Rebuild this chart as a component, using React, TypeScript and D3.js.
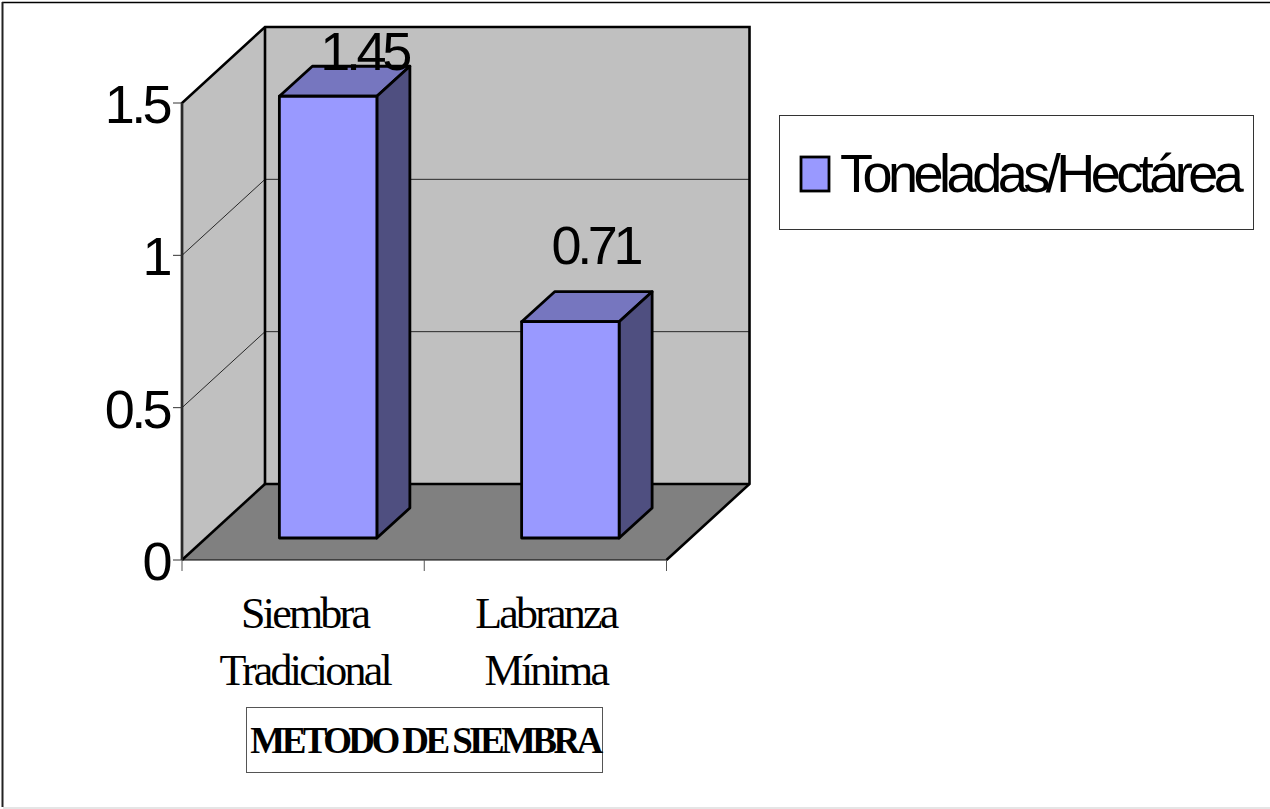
import React from "react";
import * as d3 from "d3";

const categories = [["Siembra", "Tradicional"], ["Labranza", "Mínima"]];
const categoryKeys = ["Siembra Tradicional", "Labranza Mínima"];
const values = [1.45, 0.71];
const valueLabels = ["1.45", "0.71"];
const yTicks = [0, 0.5, 1, 1.5];
const yTickLabels = ["0", "0.5", "1", "1.5"];
const seriesName = "Toneladas/Hectárea";
const axisTitle = "METODO DE SIEMBRA";

const W = 1270, H = 809;
const y = d3.scaleLinear().domain([0, 1.5]).range([560, 103]);
const x = d3.scaleBand<string>().domain(categoryKeys).range([182, 666.5]);
const DX = 83, DY = 76;
const BAR_W = 97.5, BAR_DX = 33, BAR_DY = 30, BAR_OX = 22, BAR_OY = -22;
const SANS = "'Liberation Sans', Arial, sans-serif";
const SERIF = "'Liberation Serif', 'Times New Roman', serif";
const line = d3.line();
const poly = (pts: [number, number][]) => line(pts)! + "Z";

export default function App() {
  const x0 = x.range()[0], x1 = x.range()[1];
  const y0 = y(0), yt = y(1.5);
  return (
    <svg width={W} height={H} viewBox={`0 0 ${W} ${H}`} style={{ position: "absolute", left: 0, top: 0, display: "block", background: "#fff" }}>
      {/* image frame */}
      <line x1={2} y1={2.5} x2={W} y2={2.5} stroke="#000" strokeWidth={1.5} />
      <line x1={2.5} y1={2} x2={2.5} y2={H - 2} stroke="#222" strokeWidth={2} />
      <line x1={3} y1={808} x2={W} y2={808} stroke="#ddd" strokeWidth={1.5} />

      {/* walls and floor */}
      <path d={poly([[x0, y0], [x0, yt], [x0 + DX, yt - DY], [x0 + DX, y0 - DY]])} fill="#c0c0c0" />
      <path d={poly([[x0 + DX, yt - DY], [x1 + DX, yt - DY], [x1 + DX, y0 - DY], [x0 + DX, y0 - DY]])} fill="#c0c0c0" />
      <path d={poly([[x0, y0], [x0 + DX, y0 - DY], [x1 + DX, y0 - DY], [x1, y0]])} fill="#808080" />

      {/* gridlines */}
      {yTicks.filter(t => t > 0 && t < 1.5).map(t => (
        <path key={t} d={line([[x0, y(t)], [x0 + DX, y(t) - DY], [x1 + DX, y(t) - DY]])!} fill="none" stroke="#000" strokeWidth={0.8} />
      ))}

      {/* wall outlines */}
      <path d={line([[x0, y0], [x0, yt], [x0 + DX, yt - DY], [x1 + DX, yt - DY], [x1 + DX, y0 - DY], [x1, y0]])!} fill="none" stroke="#000" strokeWidth={2.6} />
      <path d={line([[x0 + DX, yt - DY], [x0 + DX, y0 - DY], [x1 + DX, y0 - DY]])!} fill="none" stroke="#000" strokeWidth={2.6} />
      <line x1={x0} y1={y0} x2={x0 + DX} y2={y0 - DY} stroke="#000" strokeWidth={2.6} />
      <line x1={x0} y1={y0} x2={x1} y2={y0} stroke="#000" strokeWidth={1} />
      <line x1={x0} y1={yt} x2={x0} y2={y0} stroke="#555" strokeWidth={1} />

      {/* axis ticks */}
      {yTicks.map(t => <line key={t} x1={x0 - 9} y1={y(t)} x2={x0} y2={y(t)} stroke="#333" strokeWidth={1} />)}
      {[x0, x0 + x.bandwidth(), x1].map(v => <line key={v} x1={v} y1={y0} x2={v} y2={y0 + 11} stroke="#555" strokeWidth={1} />)}
      {yTicks.map((t, i) => (
        <text key={t} x={x0 - 13} y={y(t) + 20} textAnchor="end" fontFamily={SANS} fontSize={54} letterSpacing={-3.6} fill="#000">{yTickLabels[i]}</text>
      ))}

      {/* bars */}
      {values.map((v, i) => {
        const left = x(categoryKeys[i])! + (x.bandwidth() - BAR_W) / 2 + BAR_OX + 3;
        const right = left + BAR_W;
        const base = y(0) + BAR_OY;
        const top = base - (y(0) - y(v));
        return (
          <g key={i} stroke="#000" strokeWidth={2.8} strokeLinejoin="round">
            <path d={poly([[left, top], [left + BAR_DX, top - BAR_DY], [right + BAR_DX, top - BAR_DY], [right, top]])} fill="#7676bf" />
            <path d={poly([[right, top], [right + BAR_DX, top - BAR_DY], [right + BAR_DX, base - BAR_DY], [right, base]])} fill="#4f4f80" />
            <rect x={left} y={top} width={BAR_W} height={base - top} fill="#9999ff" />
          </g>
        );
      })}

      {/* data labels */}
      {values.map((v, i) => {
        const cx = x(categoryKeys[i])! + x.bandwidth() / 2 + (i === 0 ? 61 : 50);
        const base = y(0) + BAR_OY;
        const top = base - (y(0) - y(v));
        return (
          <text key={i} x={cx} y={top - (i === 0 ? 26 : 58)} textAnchor="middle" fontFamily={SANS} fontSize={54} letterSpacing={-4.3} fill="#000">{valueLabels[i]}</text>
        );
      })}

      {/* category labels */}
      {categories.map((lines, i) => lines.map((s, j) => (
        <text key={s} x={x(categoryKeys[i])! + x.bandwidth() / 2 + (i === 0 ? 1.5 : 0.5)} y={628 + j * 57} textAnchor="middle" fontFamily={SERIF} fontSize={44} letterSpacing={-2.8} fill="#000">{s}</text>
      )))}

      {/* axis title */}
      <rect x={246.5} y={707.5} width={356} height={65} fill="#fff" stroke="#555" strokeWidth={1} />
      <text x={425} y={753} textAnchor="middle" fontFamily={SERIF} fontWeight={700} fontSize={37} letterSpacing={-3.6} fill="#000">{axisTitle}</text>

      {/* legend */}
      <rect x={779.5} y={115.5} width={474} height={114} fill="#fff" stroke="#333" strokeWidth={1} />
      <rect x={801} y={157} width={28} height={34} fill="#9999ff" stroke="#000" strokeWidth={2.8} />
      <text x={840} y={192} fontFamily={SANS} fontSize={54} letterSpacing={-4.5} fill="#000">{seriesName}</text>
    </svg>
  );
}
